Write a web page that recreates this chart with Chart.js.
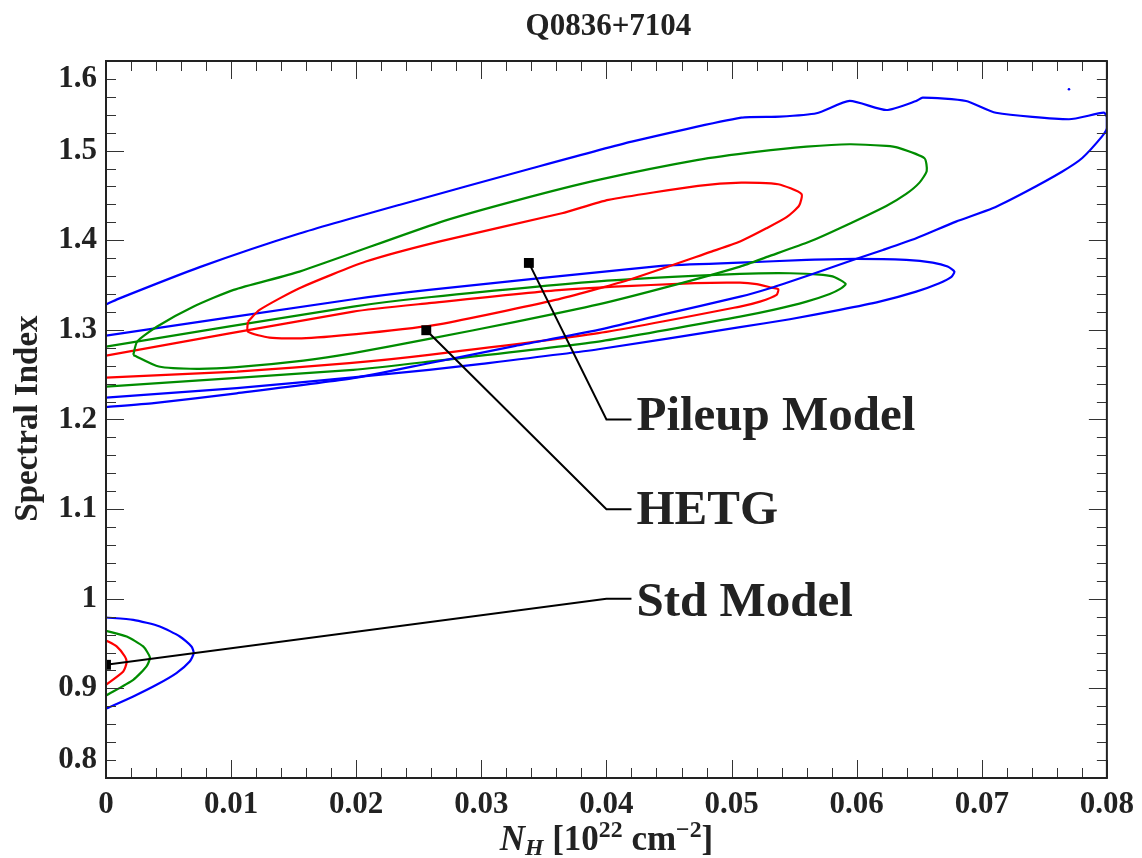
<!DOCTYPE html>
<html>
<head>
<meta charset="utf-8">
<script src="https://cdn.jsdelivr.net/npm/chart.js@4.4.1/dist/chart.umd.min.js"></script>
<style>
  html,body{margin:0;padding:0;background:#fff;}
  canvas{display:block;}
</style>
</head>
<body>
<canvas id="c" width="1142" height="858" style="width:1142px;height:858px"></canvas>
<script>
// ---------------- data ----------------
const chartTitle = 'Q0836+7104';
const yAxisTitle = 'Spectral Index';

const xTickValues = [0, 0.01, 0.02, 0.03, 0.04, 0.05, 0.06, 0.07, 0.08];
const xTickLabels = ['0', '0.01', '0.02', '0.03', '0.04', '0.05', '0.06', '0.07', '0.08'];
const yTickValues = [0.82, 0.9, 1.0, 1.1, 1.2, 1.3, 1.4, 1.5, 1.58];
const yTickLabels = ['0.8', '0.9', '1', '1.1', '1.2', '1.3', '1.4', '1.5', '1.6'];

// Pileup model confidence contours
const pileupBlue = [[0,1.3284],[0.00098,1.3346],[0.00749,1.3700],[0.01546,1.4075],[0.02343,1.4394],[0.03405,1.4803],[0.04202,1.5100],[0.05078,1.5368],[0.05386,1.5379],[0.05679,1.5417],[0.05944,1.5554],[0.06237,1.5453],[0.06476,1.5554],[0.06528,1.5591],[0.06874,1.5554],[0.07113,1.5423],[0.07697,1.5350],[0.07976,1.5423],[0.08,1.5372],[0.08,1.5249],[0.07960,1.5156],[0.07801,1.4915],[0.07641,1.4765],[0.07352,1.4542],[0.07086,1.4357],[0.06794,1.4208],[0.06476,1.4022],[0.06210,1.3892],[0.05970,1.3780],[0.05625,1.3613],[0.05307,1.3465],[0.05068,1.3371],[0.04438,1.3167],[0.03936,1.3000],[0.03273,1.2821],[0.02582,1.2628],[0.01976,1.2461],[0.01044,1.2292],[0.00382,1.2182],[0,1.2138]];
const pileupBlueDot = [[0.07697,1.5684]];
const pileupGreen = [[0.00218,1.2721],[0.00249,1.2869],[0.00409,1.3037],[0.00701,1.3260],[0.01020,1.3446],[0.01546,1.3650],[0.02661,1.4197],[0.03299,1.4450],[0.03936,1.4673],[0.04733,1.4896],[0.05211,1.4988],[0.05599,1.5044],[0.05944,1.5071],[0.06237,1.5052],[0.06329,1.5033],[0.06542,1.4915],[0.06560,1.4773],[0.06502,1.4643],[0.06396,1.4517],[0.06237,1.4383],[0.05865,1.4134],[0.05625,1.3985],[0.05291,1.3817],[0.05068,1.3706],[0.04502,1.3485],[0.03936,1.3284],[0.03273,1.3089],[0.02582,1.2899],[0.01976,1.2740],[0.01578,1.2657],[0.01046,1.2584],[0.00727,1.2565],[0.00422,1.2591],[0.00218,1.2721]];
const pileupRed = [[0.01134,1.3092],[0.01227,1.3223],[0.01546,1.3465],[0.02077,1.3762],[0.02661,1.3985],[0.03644,1.4301],[0.04016,1.4450],[0.04733,1.4606],[0.05078,1.4643],[0.05373,1.4625],[0.05559,1.4517],[0.05540,1.4386],[0.05440,1.4257],[0.05280,1.4134],[0.05068,1.3985],[0.04839,1.3873],[0.04175,1.3557],[0.03591,1.3334],[0.02661,1.3061],[0.02077,1.2963],[0.01599,1.2907],[0.01307,1.2914],[0.01134,1.2981],[0.01134,1.3092]];

// HETG confidence contours
const hetgBlue = [[0,1.2936],[0.01976,1.3342],[0.02582,1.3446],[0.04438,1.3714],[0.05068,1.3750],[0.05599,1.3780],[0.05998,1.3792],[0.06396,1.3780],[0.06608,1.3750],[0.06727,1.3706],[0.06781,1.3650],[0.06755,1.3588],[0.06661,1.3521],[0.06476,1.3427],[0.06183,1.3315],[0.05865,1.3223],[0.05466,1.3119],[0.05068,1.3030],[0.03936,1.2784],[0.03004,1.2621],[0.02582,1.2554],[0.01976,1.2470],[0.01046,1.2350],[0,1.2245]];
const hetgGreen = [[0,1.2814],[0.01976,1.3260],[0.02582,1.3364],[0.03910,1.3539],[0.05068,1.3624],[0.05466,1.3632],[0.05731,1.3613],[0.05825,1.3588],[0.05912,1.3513],[0.05865,1.3454],[0.05785,1.3401],[0.05599,1.3315],[0.05333,1.3223],[0.05068,1.3148],[0.03936,1.2869],[0.02582,1.2646],[0.01976,1.2554],[0,1.2367]];
const hetgRed = [[0,1.2713],[0.01976,1.3204],[0.02582,1.3298],[0.03644,1.3446],[0.04707,1.3521],[0.05068,1.3527],[0.05201,1.3510],[0.05307,1.3476],[0.05373,1.3454],[0.05360,1.3390],[0.05227,1.3315],[0.05068,1.3260],[0.03936,1.2963],[0.02582,1.2721],[0.01944,1.2628],[0.01046,1.2535],[0,1.2468]];

// Standard model confidence contours
const stdBlue = [[0,0.9791],[0.00218,0.9765],[0.00430,0.9691],[0.00590,0.9579],[0.00683,0.9468],[0.00701,0.9394],[0.00669,0.9300],[0.00563,0.9171],[0.00404,0.9040],[0.00218,0.8910],[0,0.8773]];
const stdGreen = [[0,0.9643],[0.00165,0.9579],[0.00297,0.9468],[0.00351,0.9345],[0.00324,0.9245],[0.00218,0.9096],[0,0.8921]];
const stdRed = [[0,0.9535],[0.00085,0.9468],[0.00151,0.9356],[0.00165,0.9289],[0.00138,0.9189],[0,0.9040]];

// best-fit points and their labels
const modelNames = ['Pileup Model', 'HETG', 'Std Model'];
const bestFitX = [0.0338, 0.0256, 0];
const bestFitY = [1.3747, 1.2996, 0.9263];
const leaderBendX = 0.040;
const leaderEndX = 0.042;
const leaderY = [1.2, 1.1, 1.0];
const labelX = 0.0424;
const labelBaselineY = [1.1884, 1.0833, 0.9810];

// ---------------- chart ----------------
const BLUE = '#0000ff', GREEN = '#008c00', RED = '#ff0000';
const FONT = '"Liberation Serif", "Times New Roman", serif';
const toXY = arr => arr.map(p => ({x: p[0], y: p[1]}));

function contour(arr, color) {
  return {data: toXY(arr), showLine: true, borderColor: color, borderWidth: 2.2,
          pointRadius: 0, tension: 0.2, fill: false, clip: 0, order: 2};
}

const datasets = [
  contour(pileupBlue, BLUE), contour(pileupGreen, GREEN), contour(pileupRed, RED),
  contour(hetgBlue, BLUE), contour(hetgGreen, GREEN), contour(hetgRed, RED),
  contour(stdBlue, BLUE), contour(stdGreen, GREEN), contour(stdRed, RED),
  {data: toXY(pileupBlueDot), showLine: false, pointRadius: 1.3, backgroundColor: BLUE,
   borderColor: BLUE, pointBorderWidth: 0, clip: 0, order: 2}
];
modelNames.forEach((name, i) => {
  datasets.push({
    label: name,
    data: [{x: bestFitX[i], y: bestFitY[i]}, {x: leaderBendX, y: leaderY[i]}, {x: leaderEndX, y: leaderY[i]}],
    showLine: true, borderColor: '#000', borderWidth: 2, pointRadius: 0, tension: 0, clip: 0, order: 1
  });
  datasets.push({
    data: [{x: bestFitX[i], y: bestFitY[i]}], showLine: false, pointStyle: 'rect',
    pointRadius: 7, backgroundColor: '#000', borderColor: '#000', pointBorderWidth: 0, clip: 0, order: 0
  });
});

const xMinorStep = 0.002, yMinorStep = 0.02;

const framePlugin = {
  id: 'frame',
  afterDatasetsDraw(chart) {
    const {ctx, chartArea: a, scales: {x, y}} = chart;
    ctx.save();
    ctx.strokeStyle = '#333';
    ctx.lineWidth = 1;
    const seg = (x1, y1, x2, y2) => { ctx.beginPath(); ctx.moveTo(x1, y1); ctx.lineTo(x2, y2); ctx.stroke(); };
    const nx = Math.round((x.max - x.min) / xMinorStep);
    for (let i = 0; i <= nx; i++) {
      const v = x.min + i * xMinorStep;
      const px = Math.round(x.getPixelForValue(v)) + 0.5;
      const len = (i % 5 === 0) ? 18 : 10;
      seg(px, a.bottom, px, a.bottom - len);
      seg(px, a.top, px, a.top + len);
    }
    const ny = Math.round((y.max - y.min) / yMinorStep);
    for (let i = 0; i <= ny; i++) {
      const v = y.min + i * yMinorStep;
      const py = Math.round(y.getPixelForValue(v)) + 0.5;
      const major = Math.abs(v * 10 - Math.round(v * 10)) < 1e-6;
      const len = major ? 18 : 10;
      seg(a.left, py, a.left + len, py);
      seg(a.right, py, a.right - len, py);
    }
    ctx.lineWidth = 2;
    ctx.strokeStyle = '#222';
    ctx.strokeRect(a.left, a.top, a.right - a.left, a.bottom - a.top);
    ctx.restore();
  },
  afterDraw(chart) {
    const {ctx, chartArea: a, scales: {x, y}} = chart;
    ctx.save();
    ctx.fillStyle = '#222';
    ctx.textBaseline = 'alphabetic';
    // title
    ctx.font = 'bold 31px ' + FONT;
    ctx.textAlign = 'center';
    ctx.fillText(chartTitle, (a.left + a.right) / 2 + 2, 35);
    // y title
    ctx.save();
    ctx.translate(36.5, (a.top + a.bottom) / 2 - 1);
    ctx.rotate(-Math.PI / 2);
    ctx.font = 'bold 33px ' + FONT;
    ctx.fillText(yAxisTitle, 0, 0);
    ctx.restore();
    // x title with sub/superscripts
    const B = 35;
    const pieces = [
      {t: 'N', it: true, s: 1, dy: 0},
      {t: 'H', it: true, s: 0.68, dy: 5},
      {t: ' [10', it: false, s: 1, dy: 0},
      {t: '22', it: false, s: 0.68, dy: -13},
      {t: ' cm', it: false, s: 1, dy: 0},
      {t: '\u22122', it: false, s: 0.68, dy: -13},
      {t: ']', it: false, s: 1, dy: 0}
    ];
    const fontOf = p => (p.it ? 'italic ' : '') + 'bold ' + (B * p.s).toFixed(1) + 'px ' + FONT;
    let total = 0;
    pieces.forEach(p => { ctx.font = fontOf(p); p.w = ctx.measureText(p.t).width; total += p.w; });
    let cx = (a.left + a.right) / 2 - total / 2;
    ctx.textAlign = 'left';
    pieces.forEach(p => { ctx.font = fontOf(p); ctx.fillText(p.t, cx, 850 + p.dy); cx += p.w; });
    // model labels
    ctx.fillStyle = '#222';
    ctx.font = 'bold 49px ' + FONT;
    modelNames.forEach((name, i) => {
      ctx.fillText(name, x.getPixelForValue(labelX), y.getPixelForValue(labelBaselineY[i]));
    });
    ctx.restore();
  }
};

const tickFont = {family: FONT, size: 31, weight: 'bold'};

new Chart(document.getElementById('c'), {
  type: 'scatter',
  data: {datasets},
  options: {
    responsive: false,
    animation: false,
    devicePixelRatio: 1,
    layout: {padding: {left: 0, right: 32, top: 61, bottom: 0}},
    plugins: {legend: {display: false}, tooltip: {enabled: false}, title: {display: false}},
    scales: {
      x: {
        type: 'linear', min: 0, max: 0.08,
        grid: {display: false, drawTicks: false},
        border: {display: false},
        afterBuildTicks: s => { s.ticks = xTickValues.map(v => ({value: v})); },
        afterFit: s => { s.height = 80; },
        ticks: {callback: (v, i) => xTickLabels[i], font: tickFont, color: '#222',
                padding: 8, maxRotation: 0, minRotation: 0, autoSkip: false}
      },
      y: {
        type: 'linear', min: 0.8, max: 1.6,
        grid: {display: false, drawTicks: false},
        border: {display: false},
        afterBuildTicks: s => { s.ticks = yTickValues.map(v => ({value: v})); },
        afterFit: s => { s.width = 106; },
        ticks: {callback: (v, i) => yTickLabels[i], font: tickFont, color: '#222',
                padding: 9, autoSkip: false}
      }
    }
  },
  plugins: [framePlugin]
});
</script>
</body>
</html>
